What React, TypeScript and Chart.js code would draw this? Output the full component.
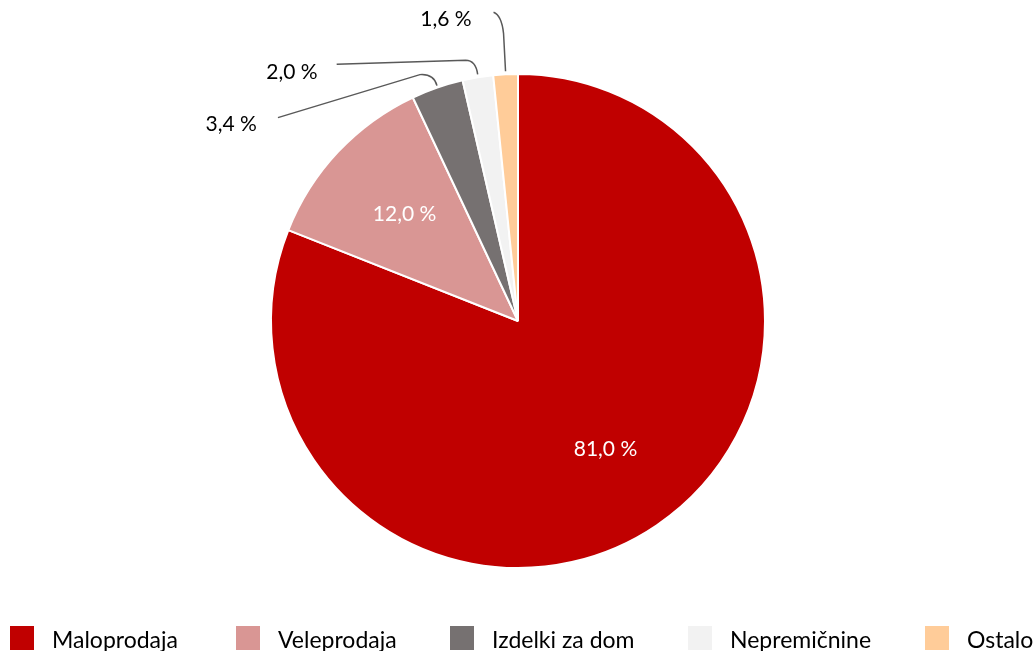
import React, { useEffect, useRef } from "react";
import { Chart, registerables } from "chart.js";

Chart.register(...registerables);

const categories = ["Maloprodaja", "Veleprodaja", "Izdelki za dom", "Nepremičnine", "Ostalo"];
const shares = [81.0, 12.0, 3.4, 2.0, 1.6];
const sliceColors = ["#C00000", "#D99694", "#767171", "#F2F2F2", "#FFCC99"];

const FONT = "Lato, 'Open Sans', sans-serif";
const fmt = (v: number) => v.toFixed(1).replace(".", ",") + " %";

const labelPlugin = {
  id: "customLabels",
  afterDraw(chart: any) {
    const ctx = chart.ctx;
    const meta = chart.getDatasetMeta(0);
    ctx.save();
    meta.data.forEach((arc: any, i: number) => {
      const { x, y, startAngle, endAngle, outerRadius } = arc.getProps(
        ["x", "y", "startAngle", "endAngle", "outerRadius"],
        true
      );
      const mid = (startAngle + endAngle) / 2;
      const text = fmt(shares[i]);
      ctx.font = `21px ${FONT}`;
      if (i < 2) {
        const r = outerRadius * 0.63;
        ctx.fillStyle = "#FFFFFF";
        ctx.textAlign = "center";
        ctx.textBaseline = "middle";
        ctx.fillText(text, x + r * Math.cos(mid), y + r * Math.sin(mid));
        return;
      }
      const ax = x + (outerRadius + 1) * Math.cos(mid);
      const ay = y + (outerRadius + 1) * Math.sin(mid);
      ctx.strokeStyle = "#595959";
      ctx.lineWidth = 1.5;
      ctx.beginPath();
      let lx = 0;
      let ly = 0;
      if (i === 2) {
        ctx.moveTo(ax, ay - 1);
        ctx.quadraticCurveTo(ax - 3, ay - 13, ax - 17, ay - 12);
        ctx.lineTo(ax - 159, ay + 31);
        lx = ax - 180;
        ly = ay + 38;
      } else if (i === 3) {
        ctx.moveTo(ax, ay - 2);
        ctx.quadraticCurveTo(ax - 2, ay - 16, ax - 12, ay - 16);
        ctx.lineTo(ax - 141, ay - 12);
        lx = ax - 160;
        ly = ay - 4;
      } else {
        ctx.moveTo(ax, ay - 2);
        ctx.lineTo(ax - 2, ay - 40);
        ctx.quadraticCurveTo(ax - 4, ay - 58, ax - 12, ay - 61);
        lx = ax - 34;
        ly = ay - 54;
      }
      ctx.stroke();
      ctx.fillStyle = "#000000";
      ctx.textAlign = "right";
      ctx.textBaseline = "middle";
      ctx.fillText(text, lx, ly);
    });

    // legend (clipped at the bottom as in the reference)
    const legendX = [10, 236, 450, 688, 925];
    ctx.font = `23px ${FONT}`;
    ctx.textAlign = "left";
    ctx.textBaseline = "middle";
    categories.forEach((c, i) => {
      ctx.fillStyle = sliceColors[i];
      ctx.fillRect(legendX[i], 626, 24, 24);
      ctx.fillStyle = "#000000";
      ctx.fillText(c, legendX[i] + 42, 641);
    });
    ctx.restore();
  },
};

export default function App() {
  const ref = useRef<HTMLCanvasElement | null>(null);
  useEffect(() => {
    if (!ref.current) return;
    const chart = new Chart(ref.current, {
      type: "pie",
      data: {
        labels: categories,
        datasets: [
          {
            data: shares,
            backgroundColor: sliceColors,
            borderColor: "#FFFFFF",
            borderWidth: 2,
          },
        ],
      },
      options: {
        responsive: false,
        animation: false,
        layout: { padding: { top: 73, bottom: 82, left: 0, right: 0 } },
        plugins: {
          legend: { display: false },
          tooltip: { enabled: false },
        },
      },
      plugins: [labelPlugin],
    });
    return () => chart.destroy();
  }, []);
  return (
    <div style={{ position: "absolute", left: 0, top: 0, width: 1036, height: 651, overflow: "hidden", background: "#fff" }}>
      <canvas ref={ref} width={1036} height={651} style={{ display: "block" }} />
    </div>
  );
}
